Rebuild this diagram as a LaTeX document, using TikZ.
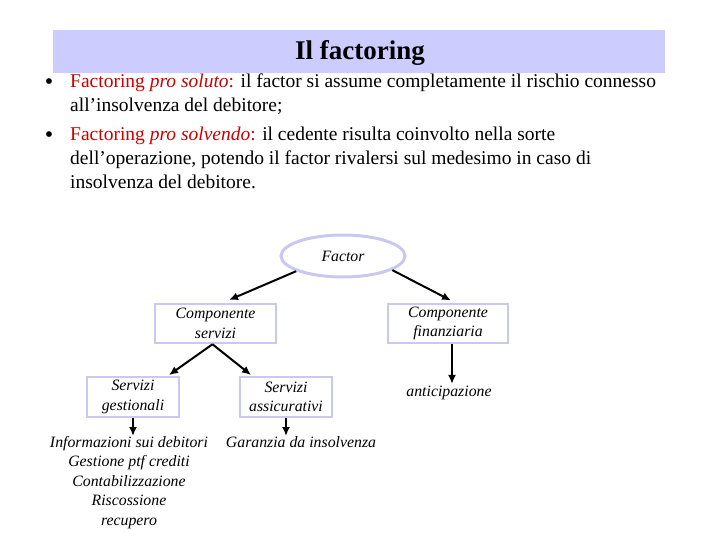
\documentclass[tikz,border=0pt]{standalone}
\usepackage{fontspec}
\setmainfont{Liberation Serif}
\usepackage{tikz}
\usetikzlibrary{shapes.geometric,arrows.meta,calc}
\definecolor{band}{RGB}{204,204,255}
\definecolor{lav}{RGB}{200,200,240}
\definecolor{fred}{RGB}{204,0,0}
\tikzstyle{b}=[draw=lav,line width=2.5pt,align=center,inner sep=0,minimum width=118pt,minimum height=37pt,font=\fontsize{15.8}{19.5}\selectfont\itshape]
\tikzstyle{e}=[draw=lav,line width=3pt,ellipse,inner sep=0,minimum width=124pt,minimum height=42pt,font=\fontsize{15.8}{19.5}\selectfont\itshape]
\tikzstyle{t}=[align=center,inner sep=0,font=\fontsize{15.8}{19.5}\selectfont\itshape]
\tikzstyle{bul}=[align=left,anchor=north west,inner sep=0,font=\fontsize{19.5}{24}\selectfont]
\tikzstyle{dot}=[inner sep=0,font=\fontsize{24}{24}\selectfont]
\tikzstyle{a}=[line width=2pt,-{Latex[length=9pt,width=8pt]}]

\begin{document}
\begin{tikzpicture}[x=1pt,y=-1pt]
  \useasboundingbox (0,0) rectangle (720,540);
  \fill[band] (53,30) rectangle (665,73);
  \node[font=\fontsize{27}{30}\selectfont\bfseries] (title) at (360,53) {Il factoring};

  \node[dot] (d1) at (49,84) {•};
  \node[bul] (p1) at (70,74) {\textcolor{fred}{Factoring \textit{pro soluto}:} il factor si assume completamente il rischio connesso\\all’insolvenza del debitore;};
  \node[dot] (d2) at (49,137) {•};
  \node[bul] (p2) at (70,127) {\textcolor{fred}{Factoring \textit{pro solvendo}:} il cedente risulta coinvolto nella sorte\\dell’operazione, potendo il factor rivalersi sul medesimo in caso di\\insolvenza del debitore.};

  \node[e] (factor) at (343,256) {Factor};

  \node[b, minimum width=121pt, minimum height=39pt] (cs) at (215.5,323.5) {Componente\\servizi};
  \node[b, minimum width=120pt, minimum height=39pt] (cf) at (448,323.5) {Componente\\finanziaria};

  \node[b, minimum width=92pt, minimum height=40pt] (sg) at (133,397) {Servizi\\gestionali};
  \node[b, minimum width=92pt, minimum height=40pt] (sa) at (286,397) {Servizi\\assicurativi};
  \node[t] (ant) at (449,393) {anticipazione};

  \node[t, anchor=north] (info) at (129,436) {Informazioni sui debitori\\Gestione ptf crediti\\Contabilizzazione\\Riscossione\\recupero};
  \node[t, anchor=north] (gar) at (301,436) {Garanzia da insolvenza};

  \draw[a]
    (factor.198) -- (229,300)
    ;
  \draw[a]
    (factor.-16) -- (451,300.5)
    ;
  \draw[a]
    (cs.south) ++(-3,0) coordinate (csb) -- (169,375)
    ;
  \draw[a]
    (csb) -- (251,375)
    ;
  \draw[a]
    (cf.south -| ant.north) ++(3,0) -- ($(ant.north)+(3,-2)$)
    ;
  \draw[a]
    (sg.south) -- (sg.south |- info.north)
    ;
  \draw[a]
    (sa.south) -- (sa.south |- gar.north)
    ;
\end{tikzpicture}
\end{document}
